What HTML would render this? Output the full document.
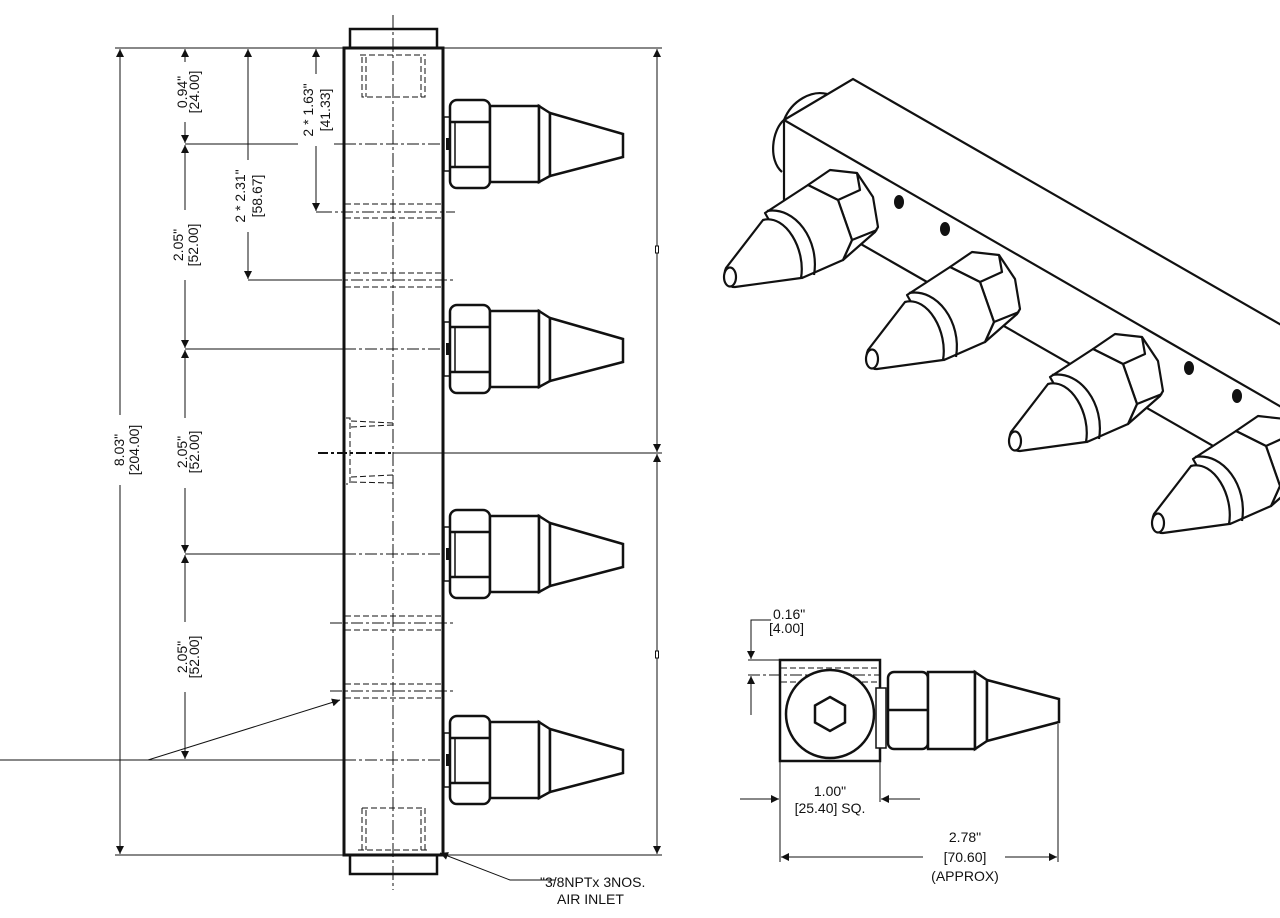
<!DOCTYPE html>
<html><head><meta charset="utf-8">
<style>
html,body{margin:0;padding:0;background:#fff;}
svg{display:block;}
text{font-family:"Liberation Sans",Arial,sans-serif;fill:#111;}
</style></head>
<body>
<svg width="1280" height="918" viewBox="0 0 1280 918" xmlns="http://www.w3.org/2000/svg">
<defs>
<marker id="a" viewBox="0 0 10 10" refX="10" refY="5" markerWidth="14" markerHeight="8" markerUnits="userSpaceOnUse" orient="auto-start-reverse">
<path d="M0,0 L10,5 L0,10 z" fill="#111"/></marker>
<g id="noz">
  <rect x="444" y="-27" width="7" height="54" fill="#fff" stroke="#111" stroke-width="1.5"/>
  <line x1="447.5" y1="-6" x2="447.5" y2="6" stroke="#111" stroke-width="3"/>
  <rect x="450" y="-44" width="40" height="88" rx="7" fill="#fff" stroke="#111" stroke-width="2.5"/>
  <line x1="450" y1="-22" x2="490" y2="-22" stroke="#111" stroke-width="2.5"/>
  <line x1="450" y1="23" x2="490" y2="23" stroke="#111" stroke-width="2.5"/>
  <line x1="455" y1="-22" x2="455" y2="23" stroke="#111" stroke-width="1.5"/>
  <rect x="490" y="-38" width="49" height="76" fill="#fff" stroke="#111" stroke-width="2.5"/>
  <polygon points="539,-38 550,-31 550,32 539,38" fill="#fff" stroke="#111" stroke-width="2.5"/>
  <polygon points="550,-31 623,-10 623,13 550,32" fill="#fff" stroke="#111" stroke-width="2.5"/>
</g>
<g id="inoz" stroke="#111" stroke-width="2.2" fill="#fff" stroke-linejoin="round">
  <!-- hex nut -->
  <path d="M808,185 L830,170 L857,173 L873,197 L878,227 L875,232 L843,260 L800,250 Z"/>
  <path d="M808,185 L838,200 L860,190 L857,173 M838,200 L852,240 L877,230 M852,240 L843,260" fill="none"/>
  <!-- sleeve -->
  <path d="M765,213 L808,185 L838,200 L852,240 L843,260 L802,278 Z"/>
  <path d="M767,211 C795,206 820,240 814,275" fill="none"/>
  <!-- cone -->
  <path d="M763,220 L726,268 C722,276 728,288 735,287 L801,278 C806,250 786,214 763,220 Z"/>
  <ellipse cx="730" cy="277" rx="6" ry="9.5"/>
</g>
</defs>

<g stroke="#111" fill="none">
<line x1="115" y1="48" x2="344" y2="48" stroke-width="1"/>
<line x1="443" y1="48" x2="662" y2="48" stroke-width="1"/>
<line x1="115" y1="855" x2="344" y2="855" stroke-width="1"/>
<line x1="443" y1="855" x2="662" y2="855" stroke-width="1"/>

<rect x="350" y="29" width="87" height="19" stroke-width="2.5"/>
<rect x="350" y="855" width="87" height="19" stroke-width="2.5"/>
<rect x="344" y="48" width="99" height="807" stroke-width="3" fill="#fff"/>
<line x1="393" y1="15" x2="393" y2="890" stroke-width="1" stroke-dasharray="14,3,3,3"/>

<path d="M360,55 L426,55 M362,57 L362,97 L425,97 L425,57 M366,57 L366,97 M421,57 L421,97" stroke-width="1" stroke-dasharray="6,3"/>
<path d="M362,808 L425,808 L425,850 M362,808 L362,850 M366,810 L366,850 M421,810 L421,850 M358,850 L428,850" stroke-width="1" stroke-dasharray="6,3"/>
<path d="M346,418 L350,418 L350,484 L346,484 M351,421 L393,423 M351,427 L393,425 M351,477 L393,475 M351,482 L393,483" stroke-width="1" stroke-dasharray="6,3"/>
<line x1="318" y1="453" x2="393" y2="453" stroke-width="2" stroke-dasharray="10,3,3,3"/>
<line x1="393" y1="453" x2="662" y2="453" stroke-width="1"/>

<g stroke-width="1">
<path d="M345,204 L442,204 M345,218 L442,218" stroke-dasharray="6,3"/>
<line x1="320" y1="212" x2="455" y2="212" stroke-dasharray="12,3,3,3"/>
<path d="M345,273 L442,273 M345,287 L442,287" stroke-dasharray="6,3"/>
<line x1="330" y1="280" x2="455" y2="280" stroke-dasharray="12,3,3,3"/>
<path d="M345,616 L442,616 M345,630 L442,630" stroke-dasharray="6,3"/>
<line x1="330" y1="623" x2="455" y2="623" stroke-dasharray="12,3,3,3"/>
<path d="M345,684 L442,684 M345,698 L442,698" stroke-dasharray="6,3"/>
<line x1="330" y1="691" x2="455" y2="691" stroke-dasharray="12,3,3,3"/>
</g>

<g stroke-width="1">
<line x1="185" y1="144" x2="344" y2="144"/><line x1="344" y1="144" x2="443" y2="144" stroke-dasharray="12,3,3,3"/>
<line x1="185" y1="349" x2="344" y2="349"/><line x1="344" y1="349" x2="443" y2="349" stroke-dasharray="12,3,3,3"/>
<line x1="185" y1="554" x2="344" y2="554"/><line x1="344" y1="554" x2="443" y2="554" stroke-dasharray="12,3,3,3"/>
<line x1="148" y1="760" x2="344" y2="760"/><line x1="344" y1="760" x2="443" y2="760" stroke-dasharray="12,3,3,3"/>
<line x1="248" y1="280" x2="330" y2="280"/>
<line x1="316" y1="212" x2="320" y2="212"/>
</g>

<g stroke-width="1" marker-start="url(#a)" marker-end="url(#a)">
<line x1="120" y1="49" x2="120" y2="854"/>
<line x1="185" y1="49" x2="185" y2="143"/>
<line x1="185" y1="145" x2="185" y2="348"/>
<line x1="185" y1="350" x2="185" y2="553"/>
<line x1="185" y1="555" x2="185" y2="759"/>
<line x1="248" y1="49" x2="248" y2="279"/>
<line x1="316" y1="49" x2="316" y2="211"/>
<line x1="657" y1="49" x2="657" y2="452"/>
<line x1="657" y1="454" x2="657" y2="854"/>
</g>
<rect x="655.5" y="246" width="3" height="7" fill="#fff" stroke-width="1"/>
<rect x="655.5" y="651" width="3" height="7" fill="#fff" stroke-width="1"/>

<polyline points="0,760 148,760 340,700" stroke-width="1" marker-end="url(#a)"/>
<polyline points="555,880 510,880 440,853" stroke-width="1" marker-end="url(#a)"/>
</g>

<g fill="#fff">
<rect x="110" y="415" width="30" height="70"/>
<rect x="172" y="62" width="30" height="60"/>
<rect x="168" y="210" width="34" height="70"/>
<rect x="168" y="418" width="34" height="70"/>
<rect x="168" y="622" width="34" height="70"/>
<rect x="230" y="160" width="36" height="72"/>
<rect x="298" y="74" width="36" height="72"/>
</g>
<g font-size="14">
<text transform="translate(124,450) rotate(-90)" text-anchor="middle">8.03"<tspan x="0" dy="15">[204.00]</tspan></text>
<text transform="translate(187,92) rotate(-90)" text-anchor="middle">0.94"<tspan x="0" dy="12">[24.00]</tspan></text>
<text transform="translate(183,245) rotate(-90)" text-anchor="middle">2.05"<tspan x="0" dy="15">[52.00]</tspan></text>
<text transform="translate(187,452) rotate(-90)" text-anchor="middle">2.05"<tspan x="0" dy="12">[52.00]</tspan></text>
<text transform="translate(187,657) rotate(-90)" text-anchor="middle">2.05"<tspan x="0" dy="12">[52.00]</tspan></text>
<text transform="translate(245,196) rotate(-90)" text-anchor="middle">2 * 2.31"<tspan x="0" dy="17">[58.67]</tspan></text>
<text transform="translate(313,110) rotate(-90)" text-anchor="middle">2 * 1.63"<tspan x="0" dy="17">[41.33]</tspan></text>
<text x="540" y="887">"3/8NPTx 3NOS.</text>
<text x="557" y="904">AIR INLET</text>
</g>

<use href="#noz" y="144"/>
<use href="#noz" y="349"/>
<use href="#noz" y="554"/>
<use href="#noz" y="760"/>

<!-- ISO VIEW -->
<g stroke="#111" stroke-width="2.2" fill="#fff">
<path d="M827,94 C812,90 792,100 784,120 C772,130 768,160 782,172" fill="none"/>
<polygon points="784,120 853,79 1290,330 1290,490 784,200"/>
<line x1="784" y1="120" x2="1290" y2="412" fill="none"/>
<g fill="#111" stroke="none">
<ellipse cx="899" cy="202" rx="5" ry="7"/>
<ellipse cx="945" cy="229" rx="5" ry="7"/>
<ellipse cx="1189" cy="368" rx="5" ry="7"/>
<ellipse cx="1237" cy="396" rx="5" ry="7"/>
</g>
</g>
<use href="#inoz"/>
<use href="#inoz" x="142" y="82"/>
<use href="#inoz" x="285" y="164"/>
<use href="#inoz" x="428" y="246"/>

<!-- SIDE VIEW -->
<g stroke="#111" fill="none">
<rect x="780" y="660" width="100" height="101" stroke-width="2.5" fill="#fff"/>
<path d="M781,668 L879,668 M781,682 L879,682" stroke-width="1" stroke-dasharray="6,3"/>
<line x1="748" y1="675" x2="880" y2="675" stroke-width="1" stroke-dasharray="12,3,3,3"/>
<circle cx="830" cy="714" r="44" stroke-width="2.5" fill="#fff"/>
<polygon points="830,697 845,705.5 845,722.5 830,731 815,722.5 815,705.5" stroke-width="2.5"/>
<rect x="876" y="688" width="10" height="60" stroke-width="1.5" fill="#fff"/>
<rect x="888" y="672" width="40" height="77" rx="6" stroke-width="2.5" fill="#fff"/>
<line x1="888" y1="710" x2="928" y2="710" stroke-width="2.5"/>
<rect x="928" y="672" width="47" height="77" stroke-width="2.5" fill="#fff"/>
<polygon points="975,672 987,680 987,741 975,749" stroke-width="2.5" fill="#fff"/>
<polygon points="987,680 1059,699 1059,722 987,741" stroke-width="2.5" fill="#fff"/>

<line x1="748" y1="660" x2="780" y2="660" stroke-width="1"/>
<polyline points="771,620 751,620 751,659" stroke-width="1" marker-end="url(#a)"/>
<line x1="751" y1="715" x2="751" y2="676" stroke-width="1" marker-end="url(#a)"/>

<line x1="780" y1="762" x2="780" y2="862" stroke-width="1"/>
<line x1="880" y1="762" x2="880" y2="802" stroke-width="1"/>
<line x1="740" y1="799" x2="779" y2="799" stroke-width="1" marker-end="url(#a)"/>
<line x1="920" y1="799" x2="881" y2="799" stroke-width="1" marker-end="url(#a)"/>
<line x1="1058" y1="724" x2="1058" y2="862" stroke-width="1"/>
<line x1="923" y1="857" x2="781" y2="857" stroke-width="1" marker-end="url(#a)"/>
<line x1="1005" y1="857" x2="1057" y2="857" stroke-width="1" marker-end="url(#a)"/>
</g>
<g font-size="14">
<text x="773" y="619">0.16"</text>
<text x="769" y="633">[4.00]</text>
<text x="830" y="796" text-anchor="middle">1.00"</text>
<text x="830" y="813" text-anchor="middle">[25.40] SQ.</text>
<text x="965" y="842" text-anchor="middle">2.78"</text>
<text x="965" y="862" text-anchor="middle">[70.60]</text>
<text x="965" y="881" text-anchor="middle">(APPROX)</text>
</g>
</svg>
</body></html>
